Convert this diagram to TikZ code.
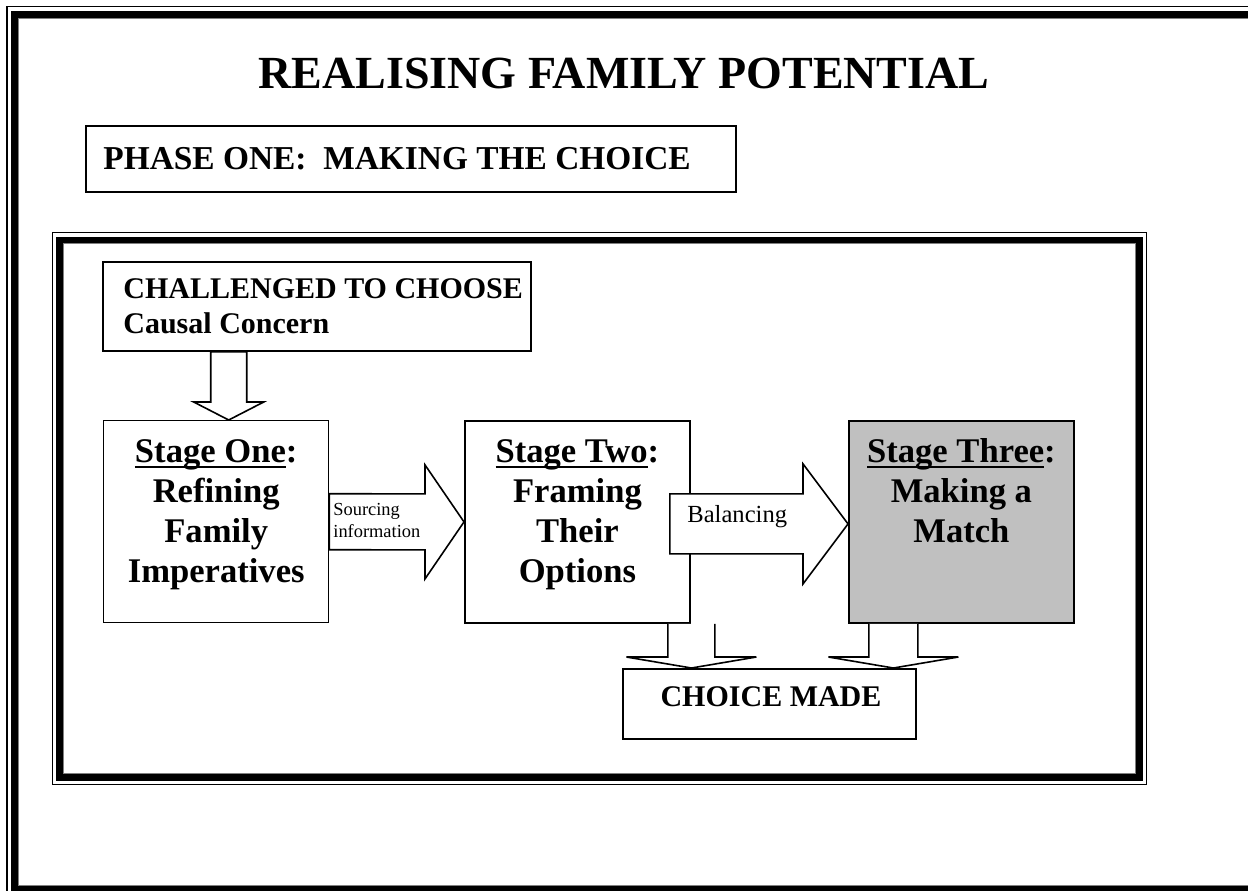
\documentclass[tikz,border=0pt]{standalone}
\usepackage{fontspec}
\setmainfont{Liberation Serif}
\usetikzlibrary{calc}
\newcommand{\fsz}[2]{\fontsize{#1}{#2}\selectfont}
\newlength{\ulw}
\newcommand{\ulx}[1]{\settowidth{\ulw}{#1}\rlap{\rule[-3pt]{\ulw}{1.1pt}}#1}
\newcommand{\topstrut}{\rule{0pt}{12pt}}
\begin{document}
\begin{tikzpicture}[x=0.5pt,y=-0.5pt,
  box/.style={draw=black, line width=0.9pt, inner sep=0pt, fill=white},
  blockarrow/.style={draw=black, line width=0.8pt, fill=white, line join=miter},
  stagetext/.style={anchor=north, align=center, inner sep=0pt, font=\bfseries\fsz{17.3pt}{20pt}}]
\useasboundingbox (0,0) rectangle (1248,890);
\clip (0,0) rectangle (1248,890);
% page frame
\draw[line width=0.6pt] (7,6.5) rectangle (1300,950);
\draw[line width=3.5pt] (14.5,14.2) rectangle (1290,889.5);
\draw[gray, line width=0.4pt] (18.6,18.2) rectangle (1286,885.6);
% title
\node[inner sep=0pt, font=\bfseries\fsz{23pt}{27pt}] (title) at (624,73) {REALISING FAMILY POTENTIAL};
% phase box
\node[box, anchor=north west, minimum width=325pt, minimum height=33pt] (phase) at (85,125) {};
\node[anchor=west, inner sep=0pt, font=\bfseries\fsz{16.7pt}{20pt}] (phaset) at ($(phase.west)+(18,0)$) {PHASE ONE:\ \ MAKING THE CHOICE};
% inner frame
\draw[line width=0.6pt] (52.8,232.6) rectangle (1146.6,784.4);
\draw[line width=3.3pt] (59.4,240) rectangle (1139.5,777.4);
\draw[gray, line width=0.4pt] (63.6,243.8) rectangle (1135.4,773.6);
% challenged box
\node[box, anchor=north west, minimum width=214pt, minimum height=44.5pt] (ch) at (102,261) {};
\node[anchor=west, align=left, inner sep=0pt, font=\bfseries\fsz{15pt}{17.5pt}] (cht) at ($(ch.west)+(21,0)$) {CHALLENGED TO CHOOSE\\Causal Concern};
% stage boxes
\node[box, line width=0.7pt, anchor=north west, minimum width=112.5pt, minimum height=101pt] (s1) at (103,420) {};
\node[box, anchor=north west, minimum width=112.5pt, minimum height=101pt] (s2) at (464,420) {};
\node[box, anchor=north west, minimum width=112.5pt, minimum height=101pt, fill={rgb,255:red,192;green,192;blue,192}] (s3) at (848,420) {};
\node[stagetext] (s1t) at ($(s1.north)+(0,18)$) {\topstrut\ulx{Stage One}:\\Refining\\Family\\Imperatives};
\node[stagetext] (s2t) at ($(s2.north)+(0,18)$) {\topstrut\ulx{Stage Two}:\\Framing\\Their\\Options};
\node[stagetext] (s3t) at ($(s3.north)+(0,18)$) {\topstrut\ulx{Stage Three}:\\Making a\\Match};
% choice made
\node[box, anchor=north west, minimum width=146.5pt, minimum height=35pt] (cm) at (622,668) {};
\node[inner sep=0pt, font=\bfseries\fsz{15pt}{18pt}] (cmt) at (771,697) {CHOICE MADE};
% arrow: challenged -> stage one
\coordinate (a1) at ($(s1.north)+(12.5,0)$);
\draw[blockarrow] ($(a1 |- ch.south)+(-18,0)$) -- ($(a1)+(-18,-18)$) -- ($(a1)+(-35,-18)$) -- (a1)
  -- ($(a1)+(35,-18)$) -- ($(a1)+(18,-18)$) -- ($(a1 |- ch.south)+(18,0)$) -- cycle;
% sourcing arrow
\draw[blockarrow] ($(s1.east)+(0,-28)$) -- ($(s2.west)+(-39,-28)$) -- ($(s2.west)+(-39,-57)$) -- (s2.west)
  -- ($(s2.west)+(-39,57)$) -- ($(s2.west)+(-39,28)$) -- ($(s1.east)+(0,28)$) -- cycle;
\node[anchor=north west, align=left, inner sep=0pt, font=\fsz{9.2pt}{11pt}] (src) at (333,502.5) {Sourcing\\information};
% balancing arrow
\coordinate (b) at ($(s3.west)+(0,2)$);
\draw[blockarrow] ($(s2.east |- b)+(-21,-30)$) -- ($(b)+(-45,-30)$) -- ($(b)+(-45,-60)$) -- (b)
  -- ($(b)+(-45,60)$) -- ($(b)+(-45,30)$) -- ($(s2.east |- b)+(-21,30)$) -- cycle;
\node[anchor=base west, inner sep=0pt, font=\fsz{12.3pt}{14pt}] (bal) at (687,522) {Balancing};
% down arrows to choice made
\coordinate (c1) at ($(s2.south)+(114,0)$);
\coordinate (t1) at (c1 |- cm.north);
\draw[blockarrow] ($(c1)+(-23.5,0)$) -- ($(t1)+(-23.5,-11)$) -- ($(t1)+(-65,-11)$) -- (t1)
  -- ($(t1)+(65,-11)$) -- ($(t1)+(23.5,-11)$) -- ($(c1)+(23.5,0)$);
\coordinate (c2) at ($(s3.south)+(-68,0)$);
\coordinate (t2) at (c2 |- cm.north);
\draw[blockarrow] ($(c2)+(-24.5,0)$) -- ($(t2)+(-24.5,-11)$) -- ($(t2)+(-65,-11)$) -- (t2)
  -- ($(t2)+(65,-11)$) -- ($(t2)+(24.5,-11)$) -- ($(c2)+(24.5,0)$);
\end{tikzpicture}
\end{document}
